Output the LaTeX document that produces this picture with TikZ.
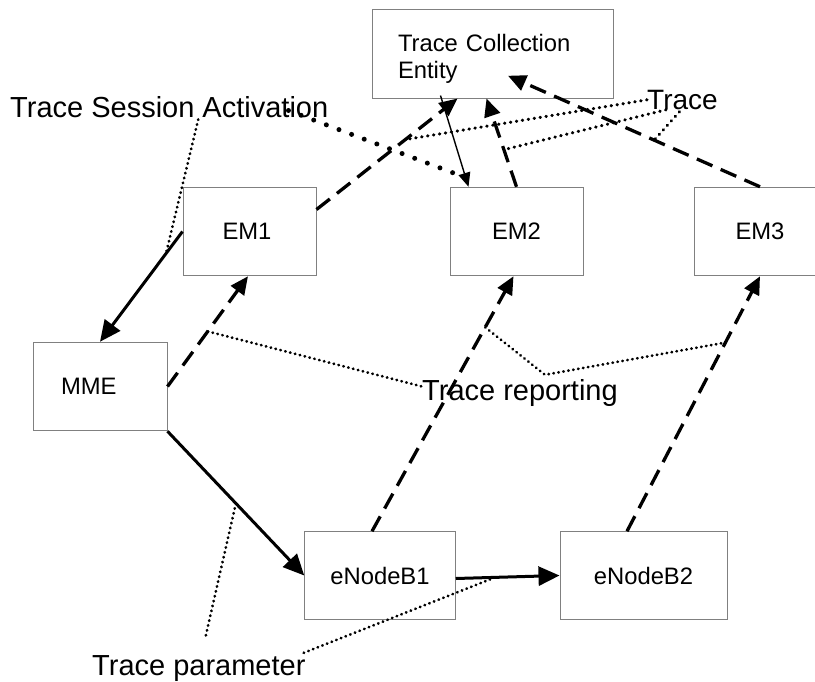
\documentclass[tikz,border=0pt]{standalone}
\usepackage{fontspec}
\setmainfont{Liberation Sans}
\usepackage{tikz}
\usetikzlibrary{arrows.meta}

\tikzset{
  dashedge/.style={line width=3.3pt,dash pattern=on 17pt off 9pt,-{Triangle[length=18pt,width=16pt]}},
  thinedge/.style={line width=1.4pt,-{Triangle[length=14pt,width=12pt]}},
  smalldots/.style={line width=2.8pt,line cap=round,dash pattern=on 0.4pt off 4.6pt},
  tracedots/.style={line width=3.2pt,line cap=round,dash pattern=on 0.4pt off 5.6pt},
  bigdots/.style={line width=5pt,line cap=round,dash pattern=on 0pt off 13.5pt}
}

\begin{document}
\begin{tikzpicture}[x=1pt,y=-1pt]
	\useasboundingbox (0,0) rectangle (815,681);
	\clip (0,0) rectangle (815,681);
		\begin{scope}[every node/.style={rectangle,draw=gray,line width=1pt,
              font=\fontsize{23.8}{27}\selectfont,minimum height=88.5pt}]
    \node[minimum width=241pt,text width=189pt,align=left] (TCE) at (492.5,53.75) {\rule{0pt}{27pt}Trace Collection\\Entity};
    \node[minimum width=133pt,text width=54pt,align=left] (EM1) at (249.5,231.5) {EM1};
    \node[minimum width=133pt] (EM2) at (516.5,231.5) {EM2};
    \node[minimum width=132pt] (EM3) at (760,231.5) {EM3};
    \node[minimum width=134pt,text width=78pt,align=left] (MME) at (100,386.5) {MME};
    \node[minimum width=150.5pt,minimum height=87.5pt] (eNB1) at (380,575.5) {eNodeB1};
    \node[minimum width=167pt,minimum height=87.5pt] (eNB2) at (643.5,575.5) {eNodeB2};
	\end{scope}

	\begin{scope}[every node/.style={anchor=base west,inner sep=0pt,
              font=\fontsize{29}{33}\selectfont}]
    \node (TSA) at (10,117) {Trace Session Activation};
    \node[font=\fontsize{28}{32}\selectfont] (TRC) at (647,109.3) {Trace};
    \node (TR) at (422,400) {Trace reporting};
    \node (TP) at (92,675) {Trace parameter};
	\end{scope}

	\begin{scope}[>={Triangle[length=21pt,width=19pt]},
              every edge/.style={draw,line width=3pt}]
    \path [->] (EM1.west) edge node[coordinate,pos=0.2] (s1) {} (MME.north);
    \path [->] (MME.south east) edge node[coordinate,pos=0.5] (s2) {} (eNB1.west);
    \path [->] ([yshift=-3pt]eNB1.east) edge node[coordinate,pos=0.38] (s3) {} (eNB2.west);
    \path (MME.east) edge[dashedge] node[coordinate,pos=0.5] (r1) {} ([xshift=-1.5pt]EM1.south);
    \path ([xshift=-8pt]eNB1.north) edge[dashedge] node[coordinate,pos=0.8] (r2) {} ([xshift=-3pt]EM2.south);
    \path ([xshift=-16.5pt]eNB2.north) edge[dashedge] node[coordinate,pos=0.74] (r3) {} (EM3.south);
    \path ([yshift=22pt]EM1.east) edge[dashedge] node[coordinate,pos=0.63] (u1) {} ([xshift=-35pt]TCE.south);
    \path (EM2.north) edge[dashedge] node[coordinate,pos=0.42] (u2) {} ([xshift=-6pt]TCE.south);
    \path (EM3.north) edge[dashedge] node[coordinate,pos=0.42] (u3) {} ([xshift=15.5pt,yshift=-22pt]TCE.center);
    \path ([xshift=-52pt,yshift=3pt]TCE.south) edge[thinedge] node[coordinate,pos=0.9] (t0) {} ([xshift=-48pt]EM2.north);
\end{scope}

    \coordinate (rv) at ([xshift=25pt,yshift=4pt]TR.north);
    \draw[smalldots] ([xshift=29pt,yshift=-2pt]TSA.south) -- (s1);
    \draw[bigdots] ([xshift=-40pt,yshift=7pt]TSA.south east) -- (t0);
    \draw[tracedots] (TRC.west) -- (u1);
    \draw[tracedots] ([xshift=19pt]TRC.south west) -- (u2);
    \draw[tracedots] ([xshift=-3pt,yshift=-2pt]TRC.south) -- (u3);
    \draw[smalldots] (r1) -- ([yshift=6pt]TR.west);
    \draw[smalldots] (r2) -- (rv) -- (r3);
    \draw[smalldots] (s2) -- ([xshift=6pt,yshift=15pt]TP.north);
    \draw[smalldots] ([xshift=-2pt,yshift=2pt]TP.north east) -- (s3);
\end{tikzpicture}
\end{document}
